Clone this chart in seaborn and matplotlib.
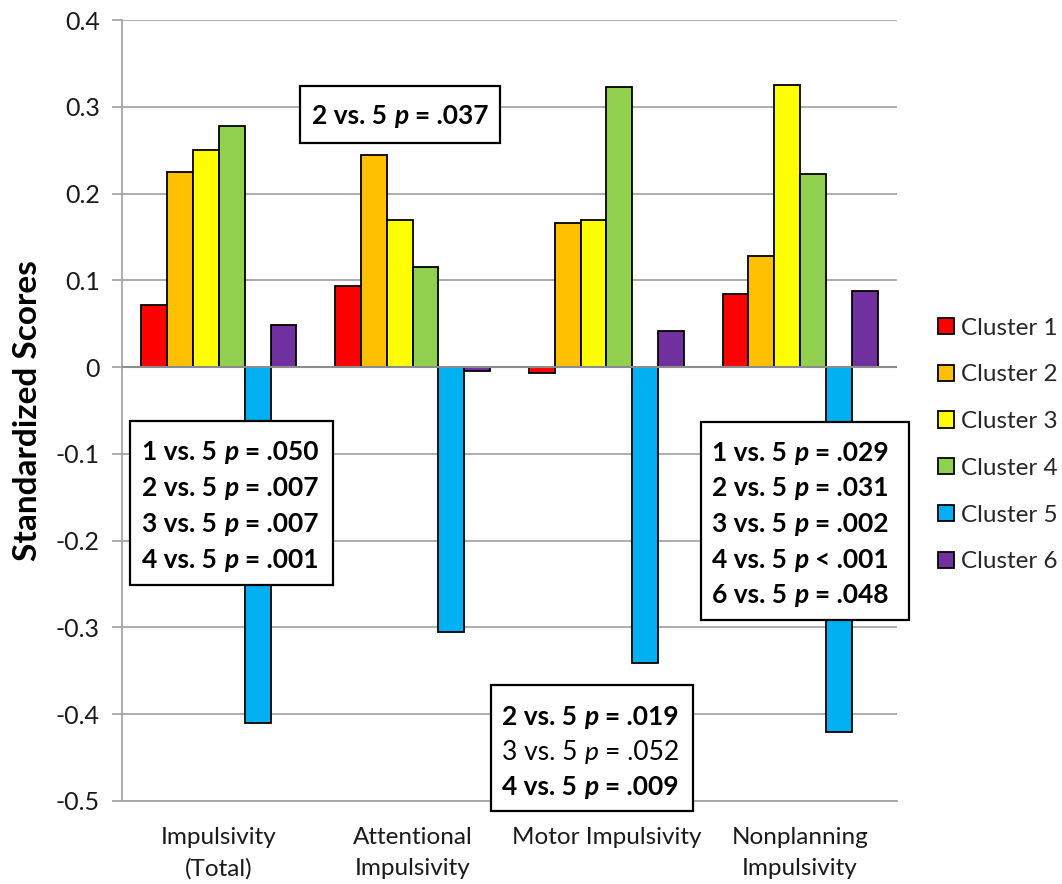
import matplotlib
matplotlib.use("Agg")
import matplotlib.pyplot as plt
import pandas as pd
import seaborn as sns
from matplotlib.offsetbox import TextArea, HPacker, AnnotationBbox
from matplotlib.patches import Rectangle
from matplotlib.ticker import FuncFormatter, MultipleLocator

# --- data -------------------------------------------------------------
measures = ["Impulsivity\n(Total)", "Attentional\nImpulsivity",
            "Motor Impulsivity", "Nonplanning\nImpulsivity"]
clusters = ["Cluster 1", "Cluster 2", "Cluster 3", "Cluster 4", "Cluster 5", "Cluster 6"]
cluster1 = [0.071, 0.093, -0.007, 0.084]
cluster2 = [0.225, 0.244, 0.166, 0.128]
cluster3 = [0.250, 0.169, 0.170, 0.325]
cluster4 = [0.278, 0.115, 0.323, 0.222]
cluster5 = [-0.410, -0.305, -0.341, -0.420]
cluster6 = [0.049, -0.005, 0.042, 0.088]
colors = ["#FF0000", "#FFC000", "#FFFF00", "#92D050", "#00B0F0", "#7030A0"]

# pairwise comparisons shown in each box: (pair, operator, p value, significant)
total_tests = [("1 vs. 5", "=", ".050", True), ("2 vs. 5", "=", ".007", True),
               ("3 vs. 5", "=", ".007", True), ("4 vs. 5", "=", ".001", True)]
attentional_tests = [("2 vs. 5", "=", ".037", True)]
motor_tests = [("2 vs. 5", "=", ".019", True), ("3 vs. 5", "=", ".052", False),
               ("4 vs. 5", "=", ".009", True)]
nonplanning_tests = [("1 vs. 5", "=", ".029", True), ("2 vs. 5", "=", ".031", True),
                     ("3 vs. 5", "=", ".002", True), ("4 vs. 5", "<", ".001", True),
                     ("6 vs. 5", "=", ".048", True)]

series = [cluster1, cluster2, cluster3, cluster4, cluster5, cluster6]
df = pd.DataFrame({
    "measure": [m for _ in clusters for m in measures],
    "cluster": [c for c in clusters for _ in measures],
    "score": [v for s in series for v in s],
})

# --- figure -----------------------------------------------------------
sns.set_theme(style="white")
plt.rcParams["font.family"] = ["Lato", "DejaVu Sans"]

W, H = 1062, 884
fig = plt.figure(figsize=(W / 100, H / 100), dpi=100)
ax = fig.add_axes([122 / W, 1 - 801 / H, (897 - 122) / W, (801 - 20) / H])

sns.barplot(data=df, x="measure", y="score", hue="cluster", order=measures,
            hue_order=clusters, palette=colors, saturation=1, errorbar=None,
            edgecolor="black", linewidth=1.3, width=0.8, ax=ax, zorder=2)

grid_col = "#A6A6A6"
ax.set_ylim(-0.5, 0.4)
ax.set_xlim(-0.5, 3.5)
ax.yaxis.set_major_locator(MultipleLocator(0.1))
ax.yaxis.set_major_formatter(FuncFormatter(lambda v, _: "0" if abs(v) < 1e-9 else f"{v:.1f}"))
ax.yaxis.grid(True, color=grid_col, linewidth=1.3)
ax.set_axisbelow(True)
ax.axhline(0, color="#8C8C8C", linewidth=1.5, zorder=3)

for side in ("top", "right"):
    ax.spines[side].set_visible(False)
for side in ("left", "bottom"):
    ax.spines[side].set_color(grid_col)
    ax.spines[side].set_linewidth(1.3)

ax.tick_params(axis="y", which="major", left=True, length=7, width=1.3, color=grid_col,
               labelsize=18, labelcolor="#1a1a1a", pad=9)
ax.tick_params(axis="x", length=0, pad=19)
ax.set_xticks(range(len(measures)))
ax.set_xticklabels(measures, fontsize=17.5, color="#1a1a1a", linespacing=1.55)
ax.set_xlabel("")
ax.set_ylabel("Standardized Scores", fontsize=24, fontweight="bold", color="black", labelpad=10)

# legend on the right
handles, labels = ax.get_legend_handles_labels()
ax.legend(handles, labels, loc="center left", bbox_to_anchor=(938 / W, 1 - 445 / H),
          bbox_transform=fig.transFigure, frameon=False, fontsize=17.5,
          handlelength=0.65, handleheight=0.65, handletextpad=0.3, labelspacing=1.06,
          borderpad=0, borderaxespad=0)


def to_fig(x, y):
    return x / W, 1 - y / H


def comparison_box(x0, y0, x1, y1, text_x, line_ys, tests, size=19):
    fx, fy = to_fig(x0, y1)
    fig.add_artist(Rectangle((fx, fy), (x1 - x0) / W, (y1 - y0) / H,
                             transform=fig.transFigure, facecolor="white",
                             edgecolor="black", linewidth=1.6, zorder=5))
    for ly, (pair, op, pval, sig) in zip(line_ys, tests):
        weight = "bold" if sig else "normal"
        parts = [
            TextArea(pair, textprops=dict(fontsize=size, fontweight=weight, color="black")),
            TextArea("p", textprops=dict(fontsize=size, fontweight=weight, fontstyle="italic", color="black")),
            TextArea(f"{op} {pval}", textprops=dict(fontsize=size, fontweight=weight, color="black")),
        ]
        row = HPacker(children=parts, align="baseline", pad=0, sep=5)
        ab = AnnotationBbox(row, to_fig(text_x, ly), xycoords="figure fraction",
                            box_alignment=(0, 0.5), frameon=False, pad=0, zorder=6)
        fig.add_artist(ab)


comparison_box(300, 86, 500, 143, 312, [116], attentional_tests)
comparison_box(130, 421, 333, 585, 142, [452, 488, 524, 560], total_tests)
comparison_box(491, 685, 693, 811, 502, [717, 752, 787], motor_tests)
comparison_box(701, 422, 909, 620, 712, [453, 488, 524, 560, 595], nonplanning_tests)

fig.savefig("out.png", dpi=100, facecolor="white")
